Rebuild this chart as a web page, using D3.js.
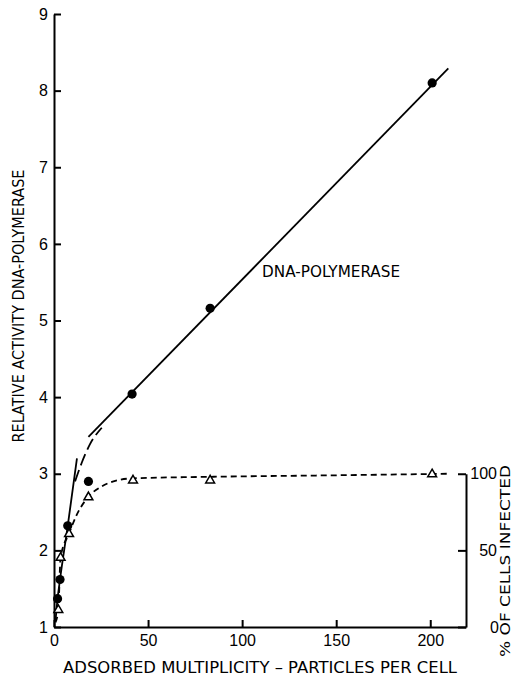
<!DOCTYPE html>
<html>
<head>
<meta charset="utf-8">
<script src="https://cdn.jsdelivr.net/npm/d3@7"></script>
<style>
  body { margin: 0; background: #fff; }
  svg { display: block; font-family: "DejaVu Sans", sans-serif; }
  .axis path, .axis line { stroke: #000; stroke-width: 2; }
  .axis text { font-size: 16px; fill: #000; }
</style>
</head>
<body>
<div id="wrapper"></div>
<script>
// dna polymerase activity, filled circles
const polyX = [1.9, 3.2, 7.3, 18.3, 41.5, 83, 201]
const polyY = [1.37, 1.62, 2.32, 2.90, 4.04, 5.16, 8.10]

// % cells infected, open triangles
const infX = [2.3, 3.5, 8, 18.3, 42, 83, 201]
const infY = [11.5, 45.5, 61, 85, 96, 96, 100]

// drawn lines
const steepX = [0.8, 1.9, 3.2, 7.3, 12.2]
const steepY = [1.08, 1.37, 1.62, 2.32, 3.2]

const longDashX = [11.2, 14.7, 19, 25.4]
const longDashY = [2.9, 3.14, 3.38, 3.6]

const fitX = [18.3, 209.6]
const fitY = [3.48, 8.29]

const infCurveX = [0.8, 2.3, 3.5, 8, 12, 18.3, 25, 33, 42, 83, 150, 209.6]
const infCurveY = [3, 11.5, 45.5, 61, 73, 85, 91.5, 95.5, 97, 98, 99, 100]

const xTicks = [0, 50, 100, 150, 200]
const yTicks = [1, 2, 3, 4, 5, 6, 7, 8, 9]
const y2Ticks = [0, 50, 100]

let dimensions = {
    width: 515,
    height: 677,
    margin: { top: 14, right: 49, bottom: 50, left: 54 }
}
dimensions.boundedWidth = dimensions.width - dimensions.margin.left - dimensions.margin.right
dimensions.boundedHeight = dimensions.height - dimensions.margin.top - dimensions.margin.bottom

const svg = d3.select("#wrapper")
    .append("svg")
    .attr("width", dimensions.width)
    .attr("height", dimensions.height)

const bounds = svg.append("g")
    .attr("transform", `translate(${dimensions.margin.left},${dimensions.margin.top})`)

const x = d3.scaleLinear().domain([0, 219]).range([0, dimensions.boundedWidth])
const y = d3.scaleLinear().domain([1, 9]).range([dimensions.boundedHeight, 0])
const y2 = d3.scaleLinear().domain([0, 100]).range([y(1), y(3)])

// axes
bounds.append("g").attr("class", "axis")
    .call(d3.axisLeft(y).tickValues(yTicks).tickSize(-7).tickSizeOuter(0).tickPadding(6).tickFormat(d3.format("d")))

bounds.append("g").attr("class", "axis")
    .attr("transform", `translate(0,${dimensions.boundedHeight})`)
    .call(d3.axisBottom(x).tickValues(xTicks).tickSize(-7).tickSizeOuter(0).tickPadding(8))

const rightAxis = bounds.append("g").attr("class", "axis")
    .attr("transform", `translate(${dimensions.boundedWidth},0)`)
    .call(d3.axisRight(y2).tickValues(y2Ticks).tickSize(-8).tickSizeOuter(0).tickPadding(4))
rightAxis.selectAll("text").attr("text-anchor", "end").attr("x", 31)
rightAxis.selectAll(".tick").filter(d => d === 0).select("text").attr("x", 33)

// lines
const line = (xs, ys, ysc) => d3.line()
    .x((d, i) => x(xs[i]))
    .y((d, i) => ysc(ys[i]))
    .curve(d3.curveMonotoneX)(xs)

bounds.append("path").attr("d", line(fitX, fitY, y))
    .attr("fill", "none").attr("stroke", "#000").attr("stroke-width", 1.8)
bounds.append("path").attr("d", line(steepX, steepY, y))
    .attr("fill", "none").attr("stroke", "#000").attr("stroke-width", 1.8)
bounds.append("path").attr("d", line(longDashX, longDashY, y))
    .attr("fill", "none").attr("stroke", "#000").attr("stroke-width", 1.8)
    .attr("stroke-dasharray", "12 5")
bounds.append("path").attr("d", line(infCurveX, infCurveY, y2))
    .attr("fill", "none").attr("stroke", "#000").attr("stroke-width", 1.8)
    .attr("stroke-dasharray", "6 4")

// markers
bounds.selectAll(".dot").data(polyX).join("circle")
    .attr("class", "dot")
    .attr("cx", (d, i) => x(d))
    .attr("cy", (d, i) => y(polyY[i]))
    .attr("r", 4.6)
    .attr("fill", "#000")

const tri = d3.symbol().type(d3.symbolTriangle).size(34)
bounds.selectAll(".tri").data(infX).join("path")
    .attr("class", "tri")
    .attr("d", tri)
    .attr("transform", (d, i) => `translate(${x(d)},${y2(infY[i]) + 0.5})`)
    .attr("fill", "#fff")
    .attr("stroke", "#000")
    .attr("stroke-width", 1.5)

// labels
bounds.append("text")
    .attr("x", x(110.6)).attr("y", y(5.57))
    .attr("font-size", 15)
    .attr("textLength", 138).attr("lengthAdjust", "spacingAndGlyphs")
    .text("DNA-POLYMERASE")

svg.append("text")
    .attr("x", 260).attr("y", 673)
    .attr("text-anchor", "middle")
    .attr("font-size", 16)
    .attr("textLength", 394).attr("lengthAdjust", "spacingAndGlyphs")
    .text("ADSORBED MULTIPLICITY \u2013 PARTICLES PER CELL")

svg.append("text")
    .attr("transform", "translate(18,306) rotate(-90)")
    .attr("text-anchor", "middle").attr("dy", "0.36em")
    .attr("font-size", 16)
    .attr("textLength", 273).attr("lengthAdjust", "spacingAndGlyphs")
    .text("RELATIVE ACTIVITY DNA-POLYMERASE")

svg.append("text")
    .attr("transform", "translate(505,561) rotate(-90)")
    .attr("text-anchor", "middle").attr("dy", "0.36em")
    .attr("font-size", 14)
    .attr("textLength", 192).attr("lengthAdjust", "spacingAndGlyphs")
    .text("% OF CELLS INFECTED")
</script>
</body>
</html>
